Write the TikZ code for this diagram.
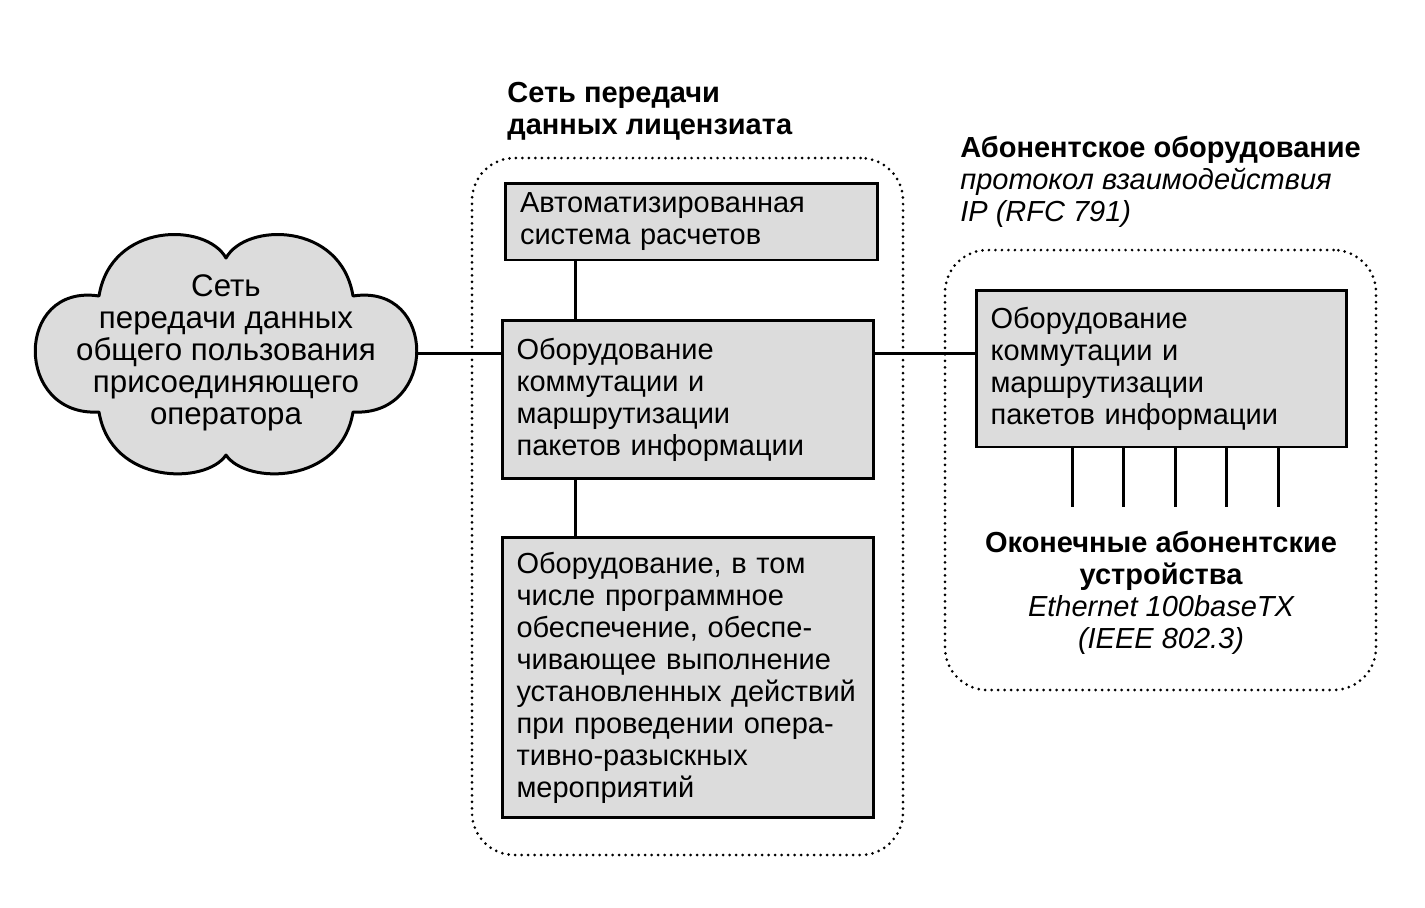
\documentclass[tikz,border=0pt]{standalone}
\usepackage{fontspec}
\setmainfont{Liberation Sans}
\usetikzlibrary{positioning, fit, calc}
\definecolor{boxgray}{RGB}{220,220,220}

\begin{document}
\begin{tikzpicture}[
    x=0.02cm, y=-0.02cm,
    font=\fontsize{16.5}{18.2}\selectfont,
    block/.style={rectangle, draw, line width=1.7pt, fill=boxgray, text width=6.86cm, inner xsep=0.29cm, align=left, minimum width=7.44cm},
    cloudline/.style={draw, line width=1.7pt, fill=boxgray, line join=round},
    line/.style={line width=1.7pt,-},
    container/.style={rectangle, draw, line width=1.7pt, dash pattern=on 0pt off 3.7pt, line cap=round, rounded corners=0.85cm, inner sep=0pt},
    title/.style={font=\fontsize{16.5}{18.2}\selectfont\bfseries, align=left, inner sep=0pt}
]
\useasboundingbox (0,0) rectangle (1425,907);

% Public network of the connecting operator

\begin{scope}[shift={(226,353)}]
\path[cloudline] (0,-95)
    .. controls (-20,-131) and (-115,-131) .. (-127,-57)
    .. controls (-212,-70) and (-212,64) .. (-127,59)
    .. controls (-115,132) and (-20,132) .. (0,102)
    .. controls (20,132) and (115,132) .. (127,59)
    .. controls (212,64) and (212,-70) .. (127,-57)
    .. controls (115,-131) and (20,-131) .. cycle;
\end{scope}
\node[align=center, minimum width=7.64cm, minimum height=4.74cm, inner sep=0pt, font=\fontsize{17.8}{18.3}\selectfont] (opnet) at (226,353) {Сеть\\передачи данных\\общего пользования\\присоединяющего\\оператора};

% Licensee data network

\node[block, minimum height=1.54cm] (billing) at (691.5,221.5) {Автоматизированная\\система расчетов};

\node[block, minimum height=3.16cm, below=1.16cm of billing, xshift=-0.07cm] (switching) {Оборудование\\коммутации и\\маршрутизации\\пакетов информации};

\node[block, minimum height=5.6cm, below=1.12cm of switching] (sorm) {Оборудование, в том\\числе программное\\обеспечение, обеспе-\\чивающее выполнение\\установленных действий\\при проведении опера-\\тивно-разыскных\\мероприятий};

\node[container, fit={(472,158) (903,855)}] (licnet) {};
\node[title, anchor=west] (licnettitle) at (507,111) {Сеть передачи\\данных лицензиата};

% Subscriber equipment

\node[block, minimum height=3.14cm, text width=6.84cm, minimum width=7.42cm] (subswitch) at (1161.5,368.5) {Оборудование\\коммутации и\\маршрутизации\\пакетов информации};

\node[container, fit={(945,250) (1376,690)}] (subnet) {};
\node[title, anchor=west] (subnettitle) at (960,182) {Абонентское оборудование\\\mdseries\itshape протокол взаимодействия\\\mdseries\itshape IP (RFC 791)};

\node[title, align=center] (terminals) at (1161,593) {Оконечные абонентские\\устройства\\\mdseries\itshape Ethernet 100baseTX\\\mdseries\itshape (IEEE 802.3)};

% Connections

\coordinate (vx) at ($(switching.north west)+(75,0)$);
\draw[line] (vx |- billing.south) -- (vx |- switching.north);
\draw[line] (vx |- switching.south) -- (vx |- sorm.north);

\draw[line] (opnet.east) -- (opnet.east -| switching.west);
\draw[line] (opnet.east -| switching.east) -- (opnet.east -| subswitch.west);

\foreach \k in {0,...,4} {
    \coordinate (port\k) at (1072+51.5*\k,507);
    \draw[line] (port\k |- subswitch.south) -- (port\k);
}

\end{tikzpicture}
\end{document}
